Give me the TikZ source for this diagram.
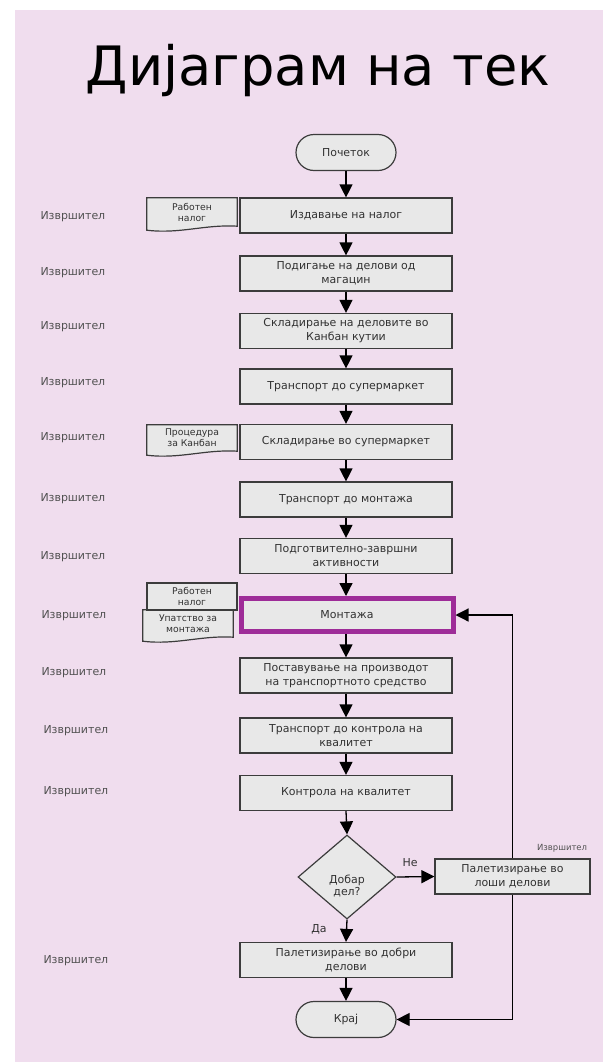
\documentclass[tikz,border=0pt]{standalone}
\usepackage{fontspec}
\setmainfont{DejaVu Sans}
\usetikzlibrary{arrows.meta,shapes.geometric}

\definecolor{bgpink}{RGB}{240,221,238}
\definecolor{boxgray}{RGB}{232,232,232}
\definecolor{edgegray}{RGB}{60,60,60}
\definecolor{txtgray}{RGB}{50,50,50}
\definecolor{mauve}{RGB}{158,44,152}

\pgfdeclarelayer{bg}
\pgfdeclarelayer{paper}
\pgfsetlayers{bg,paper,main}

\tikzset{
  procbox/.style={draw=edgegray, fill=boxgray, line width=1.2bp, minimum width=212bp,
    minimum height=35bp, inner sep=1bp, align=center,
    font=\fontsize{11}{14}\selectfont, text=txtgray},
  termbox/.style={procbox, minimum width=100bp, minimum height=36bp, rounded corners=18bp},
  decbox/.style={diamond, draw=edgegray, fill=boxgray, line width=1.2bp,
    minimum width=98bp, minimum height=84bp, inner sep=0pt},
  docbox/.style={minimum width=90bp, inner sep=1bp, align=center,
    font=\fontsize{9.3}{11}\selectfont, text=txtgray},
  sheet/.style={docbox, draw=edgegray, fill=boxgray, line width=1.2bp},
  doer/.style={anchor=west, font=\fontsize{11}{13}\selectfont, text=txtgray!85},
  tag/.style={font=\fontsize{11}{13}\selectfont, text=txtgray},
  flow/.style={-{Triangle[length=13bp,width=13bp]}, line width=1.3bp}
}

% paper sheet with a wavy lower edge behind a docbox node
\newcommand{\paperdoc}[1]{%
  \begin{pgfonlayer}{paper}
    \filldraw[draw=edgegray, fill=boxgray, line width=1.2bp]
      (#1.north west) -- (#1.north east) -- (#1.south east)
      .. controls ([xshift=-32bp,yshift=2bp]#1.south east)
      and ([xshift=33bp,yshift=-8bp]#1.south west) .. ([yshift=-4bp]#1.south west)
      -- cycle;
  \end{pgfonlayer}}

\begin{document}
\begin{tikzpicture}[x=1bp,y=-1bp]
  \useasboundingbox (0,0) rectangle (603,1062);
  \begin{pgfonlayer}{bg}
    \fill[bgpink] (15,10) rectangle (603,1062);
  \end{pgfonlayer}

  \node[anchor=base, font=\fontsize{54.5}{60}\selectfont] (title) at (318,85) {Дијаграм на тек};

  % main column
  \node[termbox] (start) at (346,152.5) {Почеток};
  \node[procbox] (b1) at (346,215.5) {Издавање на налог};
  \node[procbox] (b2) at (346,273.5) {Подигање на делови од\\магацин};
  \node[procbox] (b3) at (346,331) {Складирање на деловите во\\Канбан кутии};
  \node[procbox] (b4) at (346,386.5) {Транспорт до супермаркет};
  \node[procbox] (b5) at (346,442) {Складирање во супермаркет};
  \node[procbox] (b6) at (346,499.5) {Транспорт до монтажа};
  \node[procbox] (b7) at (346,556) {Подготвително-завршни\\активности};
  \node[procbox, draw=mauve, line width=5bp, minimum height=33bp] (b8) at (347,615) {Монтажа};
  \node[procbox] (b9) at (346,675.5) {Поставување на производот\\на транспортното средство};
  \node[procbox] (b10) at (346,735.5) {Транспорт до контрола на\\квалитет};
  \node[procbox] (b11) at (346,793) {Контрола на квалитет};
  \node[decbox] (q) at (347,877) {};
  \node[tag, align=center] (qtxt) at (347,886) {Добар\\дел?};
  \node[procbox, minimum width=155bp] (bad) at (512.5,876.5) {Палетизирање во\\лоши делови};
  \node[procbox] (b12) at (346,960) {Палетизирање во добри\\делови};
  \node[termbox] (end) at (346,1019.5) {Крај};

  % documents
  \node[docbox, minimum height=28bp] (doc1) at (192,212) {Работен\\налог};
  \paperdoc{doc1}
  \node[docbox, minimum height=26bp] (doc2) at (192,438) {Процедура\\за Канбан};
  \paperdoc{doc2}
  \node[sheet, minimum height=27bp] (doc3) at (192,596.5) {Работен\\налог};
  \node[docbox, minimum height=27bp] (doc4) at (188,623.5) {Упатство за\\монтажа};
  \paperdoc{doc4}

  % performers
  \node[doer] (d1) at (37,217) {Извршител};
  \node[doer] (d2) at (37,273) {Извршител};
  \node[doer] (d3) at (37,327) {Извршител};
  \node[doer] (d4) at (37,383) {Извршител};
  \node[doer] (d5) at (37,438) {Извршител};
  \node[doer] (d6) at (37,499) {Извршител};
  \node[doer] (d7) at (37,557) {Извршител};
  \node[doer] (d8) at (38,616) {Извршител};
  \node[doer] (d9) at (38,673) {Извршител};
  \node[doer] (d10) at (40,731) {Извршител};
  \node[doer] (d11) at (40,792) {Извршител};
  \node[doer] (d12) at (40,961) {Извршител};
  \node[doer, anchor=south east, font=\fontsize{8.5}{10}\selectfont] (d13)
    at ([yshift=3bp]bad.north east) {Извршител};

  % arrows down the column
  \draw[flow] (start) -- (b1);
  \draw[flow] (b1) -- (b2);
  \draw[flow] (b2) -- (b3);
  \draw[flow] (b3) -- (b4);
  \draw[flow] (b4) -- (b5);
  \draw[flow] (b5) -- (b6);
  \draw[flow] (b6) -- (b7);
  \draw[flow] (b7.south) -- (b8.north -| b7.south);
  \draw[flow] (b8.south -| b9.north) -- (b9);
  \draw[flow] (b9) -- (b10);
  \draw[flow] (b10) -- (b11);
  \draw[flow] (b11.south) -- (q.north);
  \draw[flow] (q.south) -- (b12.north);
  \draw[flow] (b12) -- (end);
  % decision branches
  \draw[flow] (q.east) -- (bad.west);
  \node[tag] (no) at (410,863) {Не};
  \node[tag] (yes) at (319,929) {Да};
  \draw[flow, line width=1.2bp] (bad.north) |- (b8.east);
  \draw[flow, line width=1.2bp] (bad.south) |- (end.east);
\end{tikzpicture}
\end{document}
